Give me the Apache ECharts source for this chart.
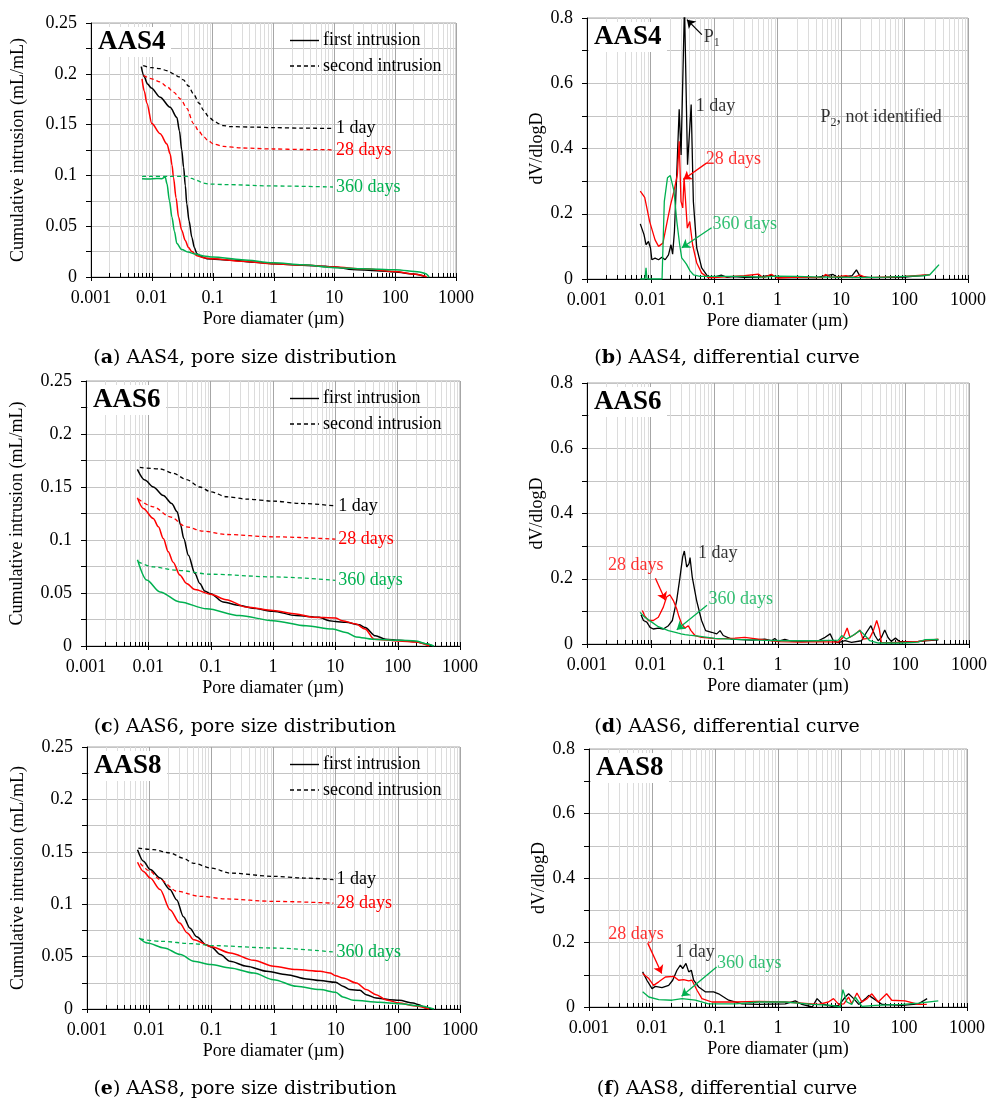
<!DOCTYPE html>
<html><head><meta charset="utf-8">
<script src="https://cdn.jsdelivr.net/npm/echarts@6/dist/echarts.min.js"></script>
<style>html,body{margin:0;padding:0;background:#fff}#c{width:989px;height:1099px}</style>
</head><body><div id="c"></div>
<script>
// ---------- axis ticks / labels ----------
const decades = [0.001, 0.01, 0.1, 1, 10, 100, 1000];
const minorMultipliers = [2, 3, 4, 5, 6, 7, 8, 9];
const ageLabels = ['1 day', '28 days', '360 days'];
const ageColors = ['#000000', '#FF0000', '#00B050'];

// ---------- (a) AAS4 cumulative ----------
const aFirst1 = [[0.0067,0.207],[0.0075,0.197],[0.0085,0.19],[0.0098,0.186],[0.0137,0.177],[0.02,0.167],[0.0258,0.157],[0.0284,0.144],[0.031,0.125],[0.0333,0.108],[0.0355,0.09],[0.0375,0.072],[0.041,0.055],[0.0455,0.039],[0.05,0.029],[0.055,0.023],[0.065,0.02],[0.08,0.018],[0.2,0.0165],[0.5,0.0145],[1,0.013],[3,0.0115],[7,0.0105],[10,0.0098],[20,0.0075],[50,0.0062],[100,0.005],[200,0.003],[300,0.0007]];
const aFirst28 = [[0.0069,0.195],[0.0075,0.183],[0.0083,0.171],[0.01,0.151],[0.0137,0.141],[0.0177,0.131],[0.02,0.121],[0.0215,0.11],[0.0227,0.098],[0.025,0.078],[0.0275,0.059],[0.031,0.046],[0.0354,0.036],[0.04,0.029],[0.0455,0.025],[0.055,0.021],[0.07,0.019],[0.1,0.018],[0.3,0.0155],[1,0.013],[3,0.0118],[10,0.0098],[30,0.008],[100,0.0055],[200,0.003],[330,0.0003]];
const aFirst360 = [[0.0069,0.0968],[0.009,0.0965],[0.012,0.097],[0.0145,0.0968],[0.0166,0.0984],[0.0177,0.092],[0.0195,0.075],[0.0214,0.059],[0.0235,0.045],[0.0258,0.033],[0.031,0.027],[0.04,0.0245],[0.0485,0.023],[0.071,0.0207],[0.1,0.0197],[0.3,0.017],[1,0.014],[3,0.012],[10,0.0092],[30,0.0082],[100,0.0072],[250,0.005],[320,0.0033],[360,0]];
const aSecond1 = [[0.0072,0.208],[0.01,0.206],[0.0137,0.205],[0.018,0.203],[0.0227,0.2],[0.028,0.197],[0.033,0.194],[0.04,0.188],[0.0485,0.18],[0.06,0.171],[0.0711,0.164],[0.085,0.158],[0.103,0.154],[0.125,0.151],[0.15,0.149],[0.194,0.148],[0.5,0.1475],[1,0.147],[3,0.1465],[9.5,0.1462]];
const aSecond28 = [[0.0073,0.1985],[0.01,0.195],[0.0137,0.192],[0.018,0.187],[0.0227,0.182],[0.03,0.175],[0.0375,0.166],[0.0485,0.151],[0.06,0.143],[0.0711,0.138],[0.085,0.134],[0.103,0.131],[0.15,0.1285],[0.3,0.127],[1,0.126],[3,0.1255],[9.5,0.1252]];
const aSecond360 = [[0.0069,0.099],[0.01,0.099],[0.02,0.099],[0.03,0.099],[0.0375,0.099],[0.045,0.097],[0.055,0.095],[0.07,0.0925],[0.09,0.0915],[0.15,0.091],[1,0.0896],[9.5,0.0886]];

// ---------- (b) AAS4 differential ----------
const bDay1 = [[0.0069,0.169],[0.0079,0.136],[0.0085,0.105],[0.0093,0.115],[0.01,0.095],[0.0105,0.059],[0.0118,0.064],[0.0134,0.059],[0.0151,0.067],[0.017,0.059],[0.0192,0.074],[0.021,0.105],[0.0223,0.076],[0.0238,0.145],[0.026,0.33],[0.0283,0.52],[0.0303,0.38],[0.0343,0.84],[0.0383,0.35],[0.0437,0.535],[0.0473,0.238],[0.0535,0.095],[0.064,0.034],[0.0816,0.005],[0.1,0.006],[0.13,0.012],[0.16,0.005],[0.2,0.007],[0.3,0.005],[0.5,0.006],[0.8,0.012],[1,0.004],[2,0.005],[4,0.004],[7.5,0.014],[9,0.004],[15,0.01],[17.5,0.028],[20,0.008],[30,0.004],[100,0.006],[220,0.012]];
const bDay28 = [[0.0069,0.269],[0.0081,0.25],[0.0097,0.176],[0.0118,0.12],[0.0134,0.1],[0.0157,0.11],[0.0183,0.176],[0.0207,0.227],[0.0234,0.269],[0.0265,0.32],[0.0283,0.422],[0.0302,0.238],[0.0322,0.218],[0.0338,0.31],[0.036,0.31],[0.038,0.156],[0.0415,0.176],[0.046,0.105],[0.0535,0.049],[0.064,0.018],[0.0816,0.004],[0.1,0.004],[0.2,0.008],[0.3,0.01],[0.5,0.015],[0.6,0.004],[0.8,0.014],[1,0.003],[2,0.006],[5,0.004],[5.7,0.014],[7,0.005],[12,0.01],[15,0.004],[20,0.012],[25,0.004],[50,0.006],[100,0.008],[250,0.013]];
const bDay360 = [[0.0069,0],[0.0082,0],[0.0085,0.034],[0.0088,0],[0.0152,0],[0.0165,0.238],[0.0185,0.31],[0.0205,0.317],[0.0234,0.27],[0.026,0.176],[0.0288,0.105],[0.031,0.065],[0.034,0.055],[0.037,0.045],[0.042,0.025],[0.0475,0.013],[0.06,0.008],[0.1,0.008],[0.3,0.008],[0.6,0.006],[1,0.009],[2,0.008],[5,0.006],[10,0.006],[20,0.004],[50,0.006],[100,0.008],[200,0.01],[250,0.013],[300,0.03],[350,0.044]];

// ---------- (c) AAS6 cumulative ----------
const cFirst1 = [[0.00667,0.1666],[0.0088,0.1565],[0.012,0.15],[0.0174,0.142],[0.0237,0.1345],[0.029,0.1266],[0.033,0.114],[0.037,0.1014],[0.0439,0.0856],[0.0557,0.0686],[0.067,0.059],[0.08,0.052],[0.1,0.0494],[0.158,0.0415],[0.29,0.0383],[0.47,0.0357],[1,0.0329],[2.35,0.0287],[5.5,0.0271],[8,0.0239],[10,0.023],[14.8,0.0223],[24,0.02],[30,0.0175],[44,0.0096],[64,0.0064],[105,0.0054],[196,0.0041],[280,0.0022],[360,0]];
const cFirst28 = [[0.00667,0.1398],[0.0083,0.1297],[0.012,0.1203],[0.0145,0.1124],[0.0174,0.1014],[0.0209,0.0888],[0.025,0.079],[0.032,0.067],[0.041,0.059],[0.0557,0.0533],[0.1,0.0488],[0.178,0.0437],[0.37,0.0367],[1,0.0335],[2.35,0.0303],[4.3,0.0271],[10,0.0265],[13,0.0239],[21.5,0.0207],[30,0.016],[42,0.0064],[105,0.0048],[196,0.0038],[320,0]];
const cFirst360 = [[0.0067,0.0813],[0.0094,0.0622],[0.0154,0.051],[0.032,0.0415],[0.086,0.0351],[0.29,0.0287],[1,0.0239],[3.4,0.0191],[9.1,0.016],[14.8,0.0128],[21.5,0.0086],[40,0.0064],[105,0.0054],[196,0.0048],[280,0.0022],[380,0]];
const cSecond1 = [[0.0073,0.1685],[0.0154,0.167],[0.025,0.163],[0.041,0.157],[0.067,0.15],[0.1,0.1455],[0.18,0.1408],[0.38,0.1386],[1,0.1367],[2.7,0.1345],[10,0.1322]];
const cSecond28 = [[0.0069,0.1386],[0.012,0.1313],[0.0223,0.1219],[0.041,0.1124],[0.076,0.1083],[0.18,0.1052],[1,0.103],[10,0.1008]];
const cSecond360 = [[0.0069,0.0794],[0.012,0.0746],[0.0284,0.0715],[0.1,0.0677],[1,0.0652],[10,0.062]];

// ---------- (d) AAS6 differential ----------
const dDay1 = [[0.00705,0.09],[0.0077,0.072],[0.0087,0.067],[0.0098,0.051],[0.011,0.046],[0.0132,0.049],[0.0158,0.046],[0.019,0.056],[0.0219,0.072],[0.0256,0.133],[0.0289,0.205],[0.0318,0.267],[0.0338,0.285],[0.0368,0.236],[0.04,0.246],[0.0415,0.265],[0.045,0.205],[0.0527,0.133],[0.063,0.072],[0.073,0.041],[0.0906,0.036],[0.109,0.031],[0.123,0.041],[0.138,0.026],[0.187,0.015],[0.385,0.012],[0.62,0.015],[0.79,0.01],[0.89,0.017],[1,0.008],[1.28,0.014],[1.64,0.008],[2.65,0.007],[4.3,0.01],[5.5,0.0205],[6.6,0.031],[7.4,0.01],[8.9,0.004],[11.3,0.01],[14.3,0.005],[20.5,0.01],[24.6,0.036],[28.8,0.056],[33.3,0.026],[37.5,0.01],[42.2,0.0205],[47.5,0.043],[53.5,0.02],[60,0.008],[70,0.018],[82,0.007],[160,0.008],[330,0.013]];
const dDay28 = [[0.0074,0.103],[0.008,0.087],[0.0092,0.072],[0.011,0.072],[0.0132,0.082],[0.0158,0.113],[0.0178,0.144],[0.02,0.151],[0.0227,0.133],[0.0256,0.108],[0.0278,0.084],[0.0307,0.0615],[0.0346,0.049],[0.039,0.056],[0.043,0.041],[0.0497,0.026],[0.063,0.0205],[0.115,0.016],[0.21,0.018],[0.3,0.0205],[0.49,0.015],[1,0.007],[2.3,0.006],[4.3,0.007],[8.9,0.006],[10.6,0.0205],[12.2,0.049],[13.5,0.0205],[16,0.029],[19.4,0.043],[21.6,0.015],[27.6,0.018],[31.5,0.041],[35.5,0.072],[39,0.046],[42,0.005],[60,0.004],[160,0.008],[330,0.015]];
const dDay360 = [[0.0068,0.097],[0.0081,0.082],[0.0104,0.067],[0.0132,0.053],[0.019,0.041],[0.0272,0.033],[0.03,0.031],[0.032,0.034],[0.0346,0.029],[0.037,0.032],[0.04,0.027],[0.043,0.029],[0.056,0.024],[0.102,0.017],[0.21,0.014],[0.49,0.012],[1.28,0.01],[4.3,0.01],[8.9,0.012],[10,0.026],[11.8,0.015],[14.3,0.024],[19.4,0.041],[23.3,0.026],[27.6,0.01],[38,0.003],[88,0.003],[160,0.006],[200,0.013],[330,0.014]];

// ---------- (e) AAS8 cumulative ----------
const eFirst1 = [[0.0065,0.152],[0.0081,0.141],[0.0104,0.133],[0.015,0.125],[0.0216,0.114],[0.0278,0.104],[0.0356,0.088],[0.0454,0.077],[0.058,0.069],[0.084,0.061],[0.1,0.0592],[0.14,0.0519],[0.2,0.0455],[0.37,0.0408],[0.78,0.036],[1.64,0.0328],[3.4,0.0287],[5.6,0.0271],[10,0.0255],[13.1,0.0217],[16.9,0.0185],[24.5,0.0178],[31,0.0137],[44.7,0.0105],[73,0.0089],[105,0.0083],[176,0.0057],[218,0.0041],[280,0.001],[360,0]];
const eFirst28 = [[0.0065,0.14],[0.0081,0.1313],[0.0104,0.125],[0.015,0.114],[0.0216,0.0948],[0.031,0.082],[0.041,0.0726],[0.052,0.0661],[0.1,0.0595],[0.2,0.0535],[0.48,0.0465],[1,0.0408],[2.35,0.0376],[5.6,0.036],[8.1,0.0344],[10,0.0318],[13.1,0.0296],[21.6,0.0248],[31,0.0185],[44.7,0.0137],[64,0.0089],[105,0.0057],[176,0.0032],[320,0]];
const eFirst360 = [[0.0069,0.0678],[0.0094,0.063],[0.0174,0.0583],[0.032,0.0519],[0.052,0.0455],[0.1,0.0424],[0.2,0.0392],[0.48,0.0344],[1,0.028],[2.35,0.0217],[5.6,0.0185],[10,0.0159],[13.1,0.0115],[19.2,0.0083],[51,0.0064],[105,0.0051],[218,0.0032],[380,0]];
const eSecond1 = [[0.0067,0.1536],[0.0117,0.152],[0.0216,0.149],[0.035,0.144],[0.052,0.139],[0.1,0.1345],[0.2,0.1297],[1,0.1266],[3,0.125],[9.2,0.1234]];
const eSecond28 = [[0.0072,0.139],[0.01,0.132],[0.015,0.1234],[0.0278,0.1123],[0.066,0.1075],[0.175,0.105],[1,0.1027],[9.2,0.101]];
const eSecond360 = [[0.0072,0.0668],[0.015,0.0646],[0.052,0.0623],[0.1,0.0605],[1,0.0582],[9.2,0.0544]];

// ---------- (f) AAS8 differential ----------
const fDay1 = [[0.0071,0.109],[0.0083,0.083],[0.01,0.057],[0.0113,0.064],[0.0144,0.06],[0.0184,0.067],[0.0213,0.083],[0.0249,0.114],[0.0282,0.13],[0.0307,0.119],[0.0346,0.135],[0.0383,0.109],[0.0421,0.114],[0.0458,0.083],[0.0551,0.062],[0.07,0.047],[0.095,0.047],[0.114,0.041],[0.165,0.021],[0.268,0.01],[0.49,0.008],[1.3,0.01],[1.88,0.019],[2.4,0.008],[3.5,0],[4.17,0.026],[5,0.01],[7.2,0.002],[9.2,0.005],[11.7,0.031],[13.2,0.041],[15.9,0.026],[19.1,0.008],[24.5,0.026],[27.6,0.036],[33,0.026],[45,0.008],[94,0.005],[170,0.01],[233,0.026]];
const fDay28 = [[0.0071,0.104],[0.0089,0.088],[0.0106,0.067],[0.0128,0.078],[0.0163,0.093],[0.0221,0.095],[0.0265,0.083],[0.0318,0.085],[0.0383,0.081],[0.0431,0.083],[0.0518,0.052],[0.062,0.026],[0.0895,0.0155],[0.21,0.0155],[0.49,0.0176],[1.3,0.0155],[4.4,0.008],[6.3,0.0155],[7.6,0.026],[9.2,0.008],[11.1,0.01],[13.2,0.031],[14.8,0.01],[17.9,0.0435],[21.5,0.0155],[26,0.026],[30.9,0.041],[39,0.0155],[53,0.041],[64,0.021],[104,0.019],[170,0.008],[230,0.008]];
const fDay360 = [[0.0071,0.047],[0.0089,0.031],[0.0128,0.023],[0.0208,0.021],[0.03,0.026],[0.0488,0.021],[0.079,0.01],[0.21,0.01],[0.49,0.0155],[1.3,0.0155],[3.5,0.008],[7.2,0.005],[9.7,0],[10.7,0.054],[12.4,0.0155],[14.8,0.008],[16.8,0.031],[21.5,0.002],[35,0.005],[94,0.008],[170,0.012],[350,0.019]];

// ---------- annotations (data coordinates) ----------
const bNotes = [
  {text:'{n|P}{s|1}', at:[0.0675,0.74], color:'#000'},
  {text:'1 day', at:[0.0505,0.528], color:'#000'},
  {text:'{n|P}{s|2}{n|, not identified}', at:[4.65,0.495], color:'#000'},
  {text:'28 days', at:[0.0725,0.366], color:'#FF0000'},
  {text:'360 days', at:[0.0933,0.167], color:'#00B050'}
];
const bArrows = [
  {from:[0.0643,0.749], to:[0.0375,0.795], color:'#000'},
  {from:[0.077,0.356], to:[0.033,0.305], color:'#FF0000'},
  {from:[0.0915,0.157], to:[0.0312,0.096], color:'#00B050'}
];
const dNotes = [
  {text:'1 day', at:[0.0542,0.278], color:'#000'},
  {text:'28 days', at:[0.0021,0.241], color:'#FF0000'},
  {text:'360 days', at:[0.0795,0.137], color:'#00B050'}
];
const dArrows = [
  {from:[0.01187,0.2015], to:[0.017,0.134], color:'#FF0000'},
  {from:[0.0767,0.119], to:[0.0257,0.044], color:'#00B050'}
];
const fNotes = [
  {text:'28 days', at:[0.00198,0.226], color:'#FF0000'},
  {text:'1 day', at:[0.0229,0.17], color:'#000'},
  {text:'360 days', at:[0.106,0.136], color:'#00B050'}
];
const fArrows = [
  {from:[0.00855,0.198], to:[0.01426,0.104], color:'#FF0000'},
  {from:[0.106,0.124], to:[0.0295,0.033], color:'#00B050'}
];

// ---------- layout ----------
const FONT = 'Liberation Serif';
const CAP_FONT = 'DejaVu Serif';
const panels = [
  {grid:{left:91,top:23,width:365,height:254}, kind:'cum', yMax:0.25, yStep:0.025, yGap:64, tag:'AAS4',
   first:[aFirst1,aFirst28,aFirst360], second:[aSecond1,aSecond28,aSecond360], cap:['a','AAS4, pore size distribution'], capX:245, capY:358},
  {grid:{left:587,top:18,width:381,height:261}, kind:'diff', yMax:0.8, yStep:0.1, yGap:33, tag:'AAS4',
   curves:[bDay1,bDay28,bDay360], notes:bNotes, arrows:bArrows, cap:['b','AAS4, differential curve'], capX:727, capY:358},
  {grid:{left:86,top:381,width:374,height:265}, kind:'cum', yMax:0.25, yStep:0.025, yGap:60, tag:'AAS6',
   first:[cFirst1,cFirst28,cFirst360], second:[cSecond1,cSecond28,cSecond360], cap:['c','AAS6, pore size distribution'], capX:245, capY:727},
  {grid:{left:587,top:383,width:382,height:261}, kind:'diff', yMax:0.8, yStep:0.1, yGap:33, tag:'AAS6',
   curves:[dDay1,dDay28,dDay360], notes:dNotes, arrows:dArrows, cap:['d','AAS6, differential curve'], capX:727, capY:727},
  {grid:{left:87,top:747,width:373,height:262}, kind:'cum', yMax:0.25, yStep:0.025, yGap:60, tag:'AAS8',
   first:[eFirst1,eFirst28,eFirst360], second:[eSecond1,eSecond28,eSecond360], cap:['e','AAS8, pore size distribution'], capX:245, capY:1089},
  {grid:{left:589,top:749,width:378,height:258}, kind:'diff', yMax:0.8, yStep:0.1, yGap:33, tag:'AAS8',
   curves:[fDay1,fDay28,fDay360], notes:fNotes, arrows:fArrows, cap:['f','AAS8, differential curve'], capX:727, capY:1089}
];

const tickData = [];
decades.forEach(d => tickData.push([d, 1]));
decades.slice(0, -1).forEach(d => minorMultipliers.forEach(m => tickData.push([Number((d * m).toPrecision(6)), 0])));

function xTickSeries(i, yMax) {
  return {
    type:'custom', xAxisIndex:i, yAxisIndex:i, silent:true, clip:false, z:1,
    encode:{x:0, y:1}, data:tickData,
    renderItem:(params, api) => {
      const x = api.value(0), major = api.value(1) === 1;
      const b = api.coord([x, 0]), t = api.coord([x, yMax]);
      const px = Math.round(b[0]) + 0.5, by = Math.round(b[1]);
      const kids = [];
      if (!major) kids.push({type:'line', shape:{x1:px, y1:Math.round(t[1]), x2:px, y2:by}, style:{stroke:'#dcdcdc', lineWidth:1}});
      kids.push({type:'line', shape:{x1:px, y1:by - 4, x2:px, y2:by + (major ? 4 : 0)}, style:{stroke:'#000', lineWidth:1}});
      return {type:'group', children:kids};
    }
  };
}

const grid = [], xAxis = [], yAxis = [], series = [], graphic = [];
panels.forEach((p, i) => {
  const g = p.grid;
  grid.push({left:g.left, top:g.top, width:g.width, height:g.height, show:true, borderColor:'#a6a6a6', borderWidth:1,
    backgroundColor:'transparent', containLabel:false, outerBoundsMode:'none'});
  xAxis.push({gridIndex:i, type:'log', logBase:10, min:decades[0], max:decades[decades.length-1], splitNumber:6,
    name:'Pore diamater (µm)', nameLocation:'middle', nameGap:33,
    nameTextStyle:{fontFamily:FONT, fontSize:18, color:'#000'},
    axisLine:{show:true, onZero:false, lineStyle:{color:'#000', width:1}},
    axisTick:{show:false},
    axisLabel:{fontFamily:FONT, fontSize:18, color:'#000', margin:12, hideOverlap:false,
      formatter: v => String(Number(Number(v).toPrecision(6)))},
    splitLine:{show:true, lineStyle:{color:'#a6a6a6', width:1}}});
  yAxis.push({gridIndex:i, type:'value', min:0, max:p.yMax, interval:p.yStep,
    name: p.kind === 'cum' ? 'Cumulative intrusion (mL/mL)' : 'dV/dlogD',
    nameLocation:'middle', nameGap:p.yGap, nameRotate:90,
    nameTextStyle:{fontFamily:FONT, fontSize:18, color:'#000'},
    axisLine:{show:true, onZero:false, lineStyle:{color:'#000', width:1}},
    axisTick:{show:true, length:5, lineStyle:{color:'#000'}},
    axisLabel:{fontFamily:FONT, fontSize:18, color:'#000', margin:14,
      formatter: v => { const k = Math.round(v / p.yStep); return k % 2 ? '' : String(Number(Number(v).toFixed(3))); }},
    splitLine:{show:true, lineStyle:{color:'#c4c4c4', width:1}}});

  series.push(xTickSeries(i, p.yMax));

  if (p.kind === 'cum') {
    for (let j = 0; j < 3; j++) {
      series.push({type:'line', name:'first ' + ageLabels[j], xAxisIndex:i, yAxisIndex:i, data:p.first[j],
        showSymbol:false, symbol:'none', smooth:0.3, smoothMonotone:'x', silent:true, z:3,
        lineStyle:{color:ageColors[j], width:1.5, type:'solid'}});
      series.push({type:'line', name:'second ' + ageLabels[j], xAxisIndex:i, yAxisIndex:i, data:p.second[j],
        showSymbol:false, symbol:'none', smooth:0.3, smoothMonotone:'x', silent:true, z:3,
        lineStyle:{color:ageColors[j], width:1.3, type:[4, 3]},
        endLabel:{show:true, formatter:ageLabels[j], color:ageColors[j], fontFamily:FONT, fontSize:18, distance:3}});
    }
    // legend
    const y1 = g.top + 17.5, y2 = g.top + 43;
    graphic.push({type:'line', z:100, shape:{x1:290, y1:y1, x2:319, y2:y1}, style:{stroke:'#000', lineWidth:1.4}});
    graphic.push({type:'text', z:100, style:{text:'first intrusion', x:323, y:y1, verticalAlign:'middle', fontFamily:FONT, fontSize:18, fill:'#000'}});
    graphic.push({type:'line', z:100, shape:{x1:290, y1:y2, x2:319, y2:y2}, style:{stroke:'#000', lineWidth:1.3, lineDash:[4, 3]}});
    graphic.push({type:'text', z:100, style:{text:'second intrusion', x:323, y:y2, verticalAlign:'middle', fontFamily:FONT, fontSize:18, fill:'#000'}});
  } else {
    for (let j = 0; j < 3; j++) {
      series.push({type:'line', name:ageLabels[j], xAxisIndex:i, yAxisIndex:i, data:p.curves[j],
        showSymbol:false, symbol:'none', smooth:false, silent:true, z:3,
        lineStyle:{color:ageColors[j], width:1.3}});
    }
    series.push({type:'scatter', xAxisIndex:i, yAxisIndex:i, symbolSize:1, silent:true, z:5,
      itemStyle:{color:'rgba(0,0,0,0)'},
      data:p.notes.map(n => ({value:n.at, label:{show:true, position:'right', distance:0, formatter:n.text,
        color:n.color, fontFamily:FONT, fontSize:18,
        rich:{n:{fontFamily:FONT, fontSize:18, color:n.color}, s:{fontFamily:FONT, fontSize:12, color:n.color, padding:[10,0,0,0]}}}})),
      markLine:{silent:true, symbol:['none','arrow'], symbolSize:8, label:{show:false}, emphasis:{disabled:true},
        data:p.arrows.map(a => [{coord:a.from, lineStyle:{color:a.color, width:1.3, type:'solid'}, itemStyle:{color:a.color}}, {coord:a.to}])}});
  }

  // sample tag
  graphic.push({type:'rect', z:99, shape:{x:g.left + 2, y:g.top + 4, width:78, height:30}, style:{fill:'#fff'}});
  graphic.push({type:'text', z:100, style:{text:p.tag, x:g.left + 7, y:g.top + 19.5, verticalAlign:'middle',
    fontFamily:FONT, fontSize:27, fontWeight:'bold', fill:'#000'}});
  // caption
  graphic.push({type:'text', z:100, style:{text:'({b|' + p.cap[0] + '}) ' + p.cap[1], x:p.capX, y:p.capY,
    align:'center', verticalAlign:'middle', fontFamily:CAP_FONT, fontSize:19, fill:'#000',
    rich:{b:{fontFamily:CAP_FONT, fontSize:19, fontWeight:'bold', fill:'#000'}}}});
});

const chart = echarts.init(document.getElementById('c'), null, {renderer:'canvas'});
chart.setOption({
  animation:false,
  backgroundColor:'#fff',
  textStyle:{fontFamily:FONT},
  grid, xAxis, yAxis, series, graphic
});
</script>
</body></html>
